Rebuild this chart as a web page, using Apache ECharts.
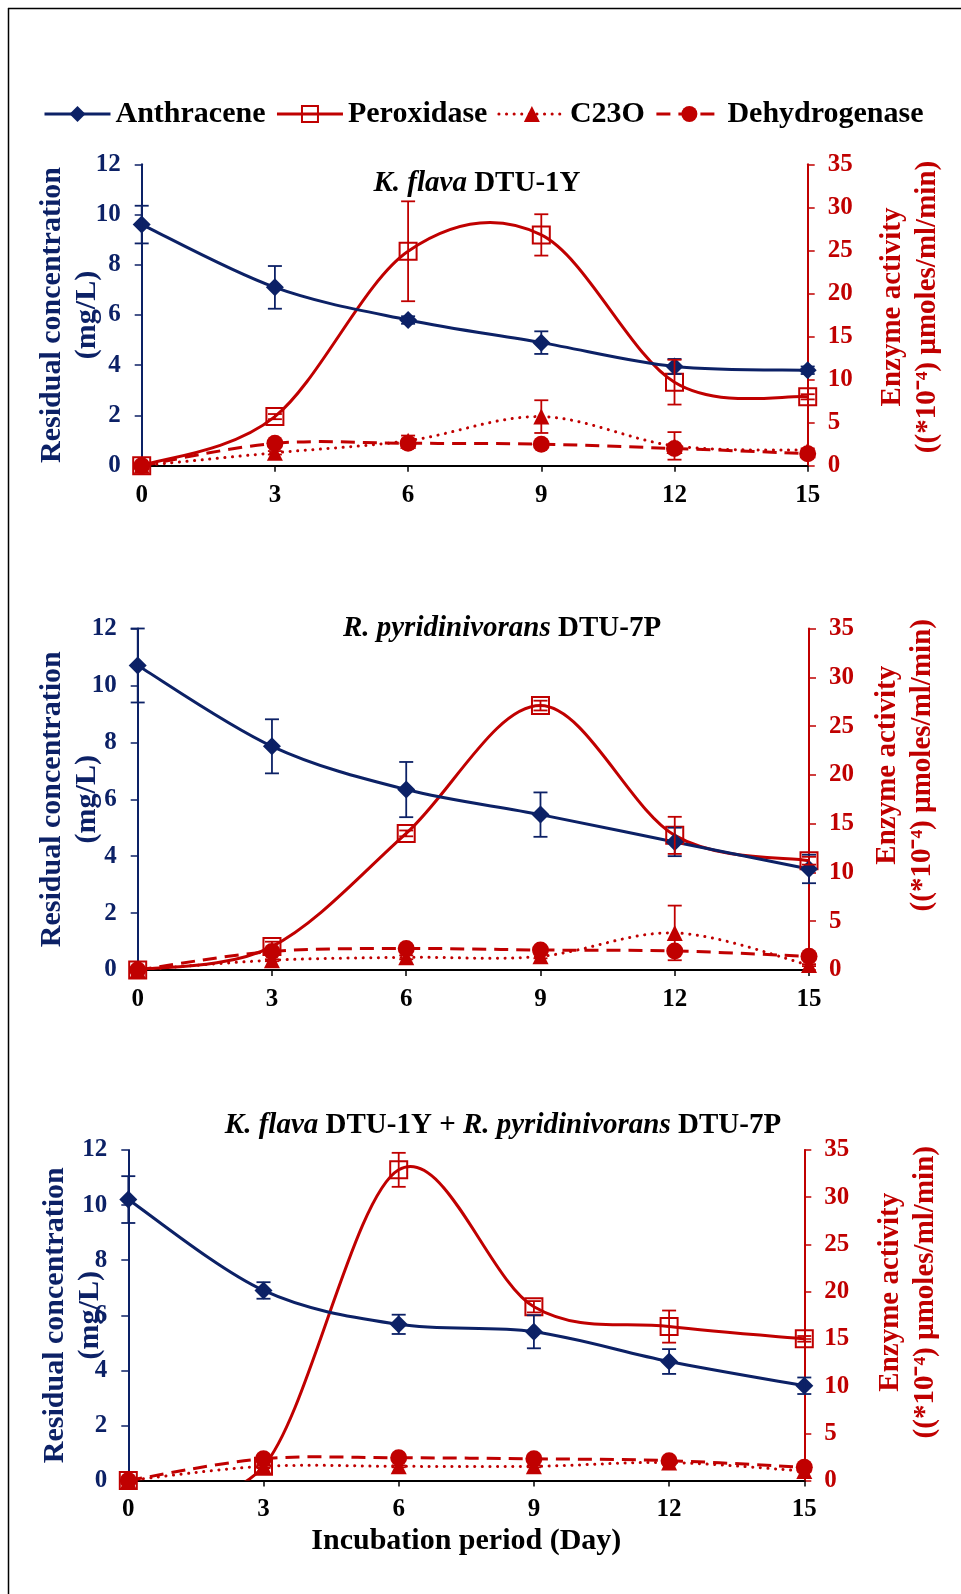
<!DOCTYPE html>
<html>
<head>
<meta charset="utf-8">
<script src="https://cdn.jsdelivr.net/npm/echarts@6/dist/echarts.min.js"></script>
<style>
  html, body { margin: 0; padding: 0; background: #fff; }
  #chart { width: 961px; height: 1594px; }
</style>
</head>
<body>
<div id="chart"></div>
<script>
// Incubation days (x axis)
const days = [0, 3, 6, 9, 12, 15];

// K. flava DTU-1Y
const anthA = [9.6, 7.1, 5.8, 4.9, 3.95, 3.8];
const anthErrA = [0.75, 0.85, 0.15, 0.45, 0.3, 0.15];
const peroxA = [0, 5.7, 24.9, 26.8, 9.7, 8.0];
const peroxErrA = [0, 0.3, 5.8, 2.4, 2.6, 0.3];
const c23oA = [0, 1.5, 2.9, 5.7, 2.3, 1.8];
const c23oErrA = [0, 0.2, 0.6, 1.9, 1.6, 0.2];
const dehA = [0, 2.6, 2.6, 2.5, 2.0, 1.4];
const dehErrA = [0, 0.2, 0.5, 0.2, 0.3, 0.2];

// R. pyridinivorans DTU-7P
const anthB = [10.7, 7.86, 6.34, 5.46, 4.5, 3.55];
const anthErrB = [1.3, 0.95, 0.97, 0.78, 0.5, 0.5];
const peroxB = [0, 2.4, 14.0, 27.1, 13.8, 11.2];
const peroxErrB = [0, 0.5, 0.3, 0.5, 1.9, 0.4];
const c23oB = [0, 1.0, 1.3, 1.4, 3.8, 0.5];
const c23oErrB = [0, 0.1, 0.2, 0.2, 2.8, 0.1];
const dehB = [0, 1.9, 2.2, 2.05, 1.95, 1.4];
const dehErrB = [0, 0.1, 0.2, 0.2, 0.2, 0.1];

// Consortium K. flava DTU-1Y + R. pyridinivorans DTU-7P
const anthC = [10.2, 6.9, 5.67, 5.4, 4.32, 3.44];
const anthErrC = [0.85, 0.3, 0.35, 0.6, 0.45, 0.3];
const peroxC = [0, 1.5, 32.9, 18.4, 16.3, 15.0];
const peroxErrC = [0, 0.2, 1.8, 0.6, 1.7, 0.3];
const c23oC = [0, 1.5, 1.5, 1.5, 1.9, 1.0];
const c23oErrC = [0, 0.1, 0.1, 0.1, 0.2, 0.1];
const dehC = [0, 2.3, 2.4, 2.3, 2.1, 1.4];
const dehErrC = [0, 0.2, 0.2, 0.2, 0.2, 0.1];

// Axis tick settings
const concTicks = { min: 0, max: 12, interval: 2 };
const enzTicks = { min: 0, max: 35, interval: 5 };
const dayTicks = { min: 0, max: 15, interval: 3 };

const panelTitles = [
  '{i|K. flava} DTU-1Y',
  '{i|R. pyridinivorans} DTU-7P',
  '{i|K. flava} DTU-1Y + {i|R. pyridinivorans} DTU-7P'
];

const NAVY = '#0c2166';
const RED = '#c00000';
const FONT = '"Liberation Serif", "Times New Roman", serif';

// Line looks shared by the curves and the legend icons
const DOTS = [0.1, 7.5];
const DASHES = [14, 8];
const looks = {
  Anthracene: { color: NAVY, width: 3, type: 'solid', cap: 'butt' },
  Peroxidase: { color: RED, width: 3, type: 'solid', cap: 'butt' },
  C23O: { color: RED, width: 3, type: DOTS, cap: 'round' },
  Dehydrogenase: { color: RED, width: 3, type: DASHES, cap: 'butt' }
};

const panels = [
  { anth: anthA, anthErr: anthErrA, perox: peroxA, peroxErr: peroxErrA, c23o: c23oA, c23oErr: c23oErrA, deh: dehA, dehErr: dehErrA },
  { anth: anthB, anthErr: anthErrB, perox: peroxB, peroxErr: peroxErrB, c23o: c23oB, c23oErr: c23oErrB, deh: dehB, dehErr: dehErrB },
  { anth: anthC, anthErr: anthErrC, perox: peroxC, peroxErr: peroxErrC, c23o: c23oC, c23oErr: c23oErrC, deh: dehC, dehErr: dehErrC }
];

// Layout of the three stacked plots
const grids = [
  { left: 141.7, top: 164.3, width: 666, height: 301.4 },
  { left: 137.7, top: 628.5, width: 671.3, height: 341.5 },
  { left: 128.3, top: 1150, width: 676, height: 330.5 }
];
const titlePos = [
  { x: 472, y: 164 },
  { x: 497, y: 609 },
  { x: 498, y: 1106 }
];
const leftNameGap = [37, 33, 21];
const rightNameGap = [67, 61, 69];
const rightNameShift = [16, 68, 46];

const pairs = (ys) => days.map((d, i) => [d, ys[i]]);
const errData = (ys, es) => days
  .map((d, i) => [d, ys[i] - es[i], ys[i] + es[i]])
  .filter((r, i) => es[i] > 0);

// One row per curve piece: previous, start, end and next point
function pieces(ys) {
  const pts = pairs(ys);
  const n = pts.length;
  const rows = [];
  for (let i = 0; i < n - 1; i++) {
    const a = pts[Math.max(i - 1, 0)], b = pts[i], c = pts[i + 1], d = pts[Math.min(i + 2, n - 1)];
    rows.push([a[0], a[1], b[0], b[1], c[0], c[1], d[0], d[1]]);
  }
  return rows;
}

// Cardinal spline piece (tension 1/6) between two neighbouring points
function curveRender(look) {
  const k = 1 / 6;
  return function (params, api) {
    const a = api.coord([api.value(0), api.value(1)]);
    const b = api.coord([api.value(2), api.value(3)]);
    const c = api.coord([api.value(4), api.value(5)]);
    const d = api.coord([api.value(6), api.value(7)]);
    return {
      type: 'bezierCurve',
      shape: {
        x1: b[0], y1: b[1], x2: c[0], y2: c[1],
        cpx1: b[0] + (c[0] - a[0]) * k, cpy1: b[1] + (c[1] - a[1]) * k,
        cpx2: c[0] - (d[0] - b[0]) * k, cpy2: c[1] - (d[1] - b[1]) * k
      },
      style: {
        fill: 'none', stroke: look.color, lineWidth: look.width,
        lineDash: look.type === 'solid' ? null : look.type, lineCap: look.cap
      }
    };
  };
}

function errRender(color) {
  const cap = 7;
  return function (params, api) {
    const x = api.value(0);
    const p1 = api.coord([x, api.value(1)]);
    const p2 = api.coord([x, api.value(2)]);
    const style = { stroke: color, lineWidth: 1.8, fill: 'none' };
    return {
      type: 'group',
      children: [
        { type: 'line', shape: { x1: p1[0], y1: p1[1], x2: p2[0], y2: p2[1] }, style },
        { type: 'line', shape: { x1: p1[0] - cap, y1: p1[1], x2: p1[0] + cap, y2: p1[1] }, style },
        { type: 'line', shape: { x1: p2[0] - cap, y1: p2[1], x2: p2[0] + cap, y2: p2[1] }, style }
      ]
    };
  };
}

const xAxes = [], yAxes = [], series = [], titles = [];

panels.forEach((p, k) => {
  titles.push({
    text: panelTitles[k],
    left: titlePos[k].x,
    top: titlePos[k].y,
    textAlign: 'center',
    textStyle: {
      fontFamily: FONT, fontSize: 29, fontWeight: 'bold', color: '#000',
      rich: { i: { fontFamily: FONT, fontSize: 29, fontWeight: 'bold', fontStyle: 'italic', color: '#000' } }
    }
  });

  xAxes.push(Object.assign({
    type: 'value', gridIndex: k,
    axisLine: { onZero: false, lineStyle: { color: '#000', width: 2 } },
    axisTick: { show: true, length: 6, lineStyle: { color: '#000', width: 1.5 } },
    axisLabel: { color: '#000', fontFamily: FONT, fontSize: 25, fontWeight: 'bold', margin: 17 },
    splitLine: { show: false },
    name: k === 2 ? 'Incubation period (Day)' : '',
    nameLocation: 'middle', nameGap: 46, nameMoveOverlap: false,
    nameTextStyle: { fontFamily: FONT, fontSize: 30, fontWeight: 'bold', color: '#000' }
  }, dayTicks));

  yAxes.push(Object.assign({
    type: 'value', gridIndex: k, position: 'left',
    axisLine: { show: true, onZero: false, lineStyle: { color: NAVY, width: 2 } },
    axisTick: { show: true, length: 7, lineStyle: { color: NAVY, width: 1.5 } },
    axisLabel: { color: NAVY, fontFamily: FONT, fontSize: 25, fontWeight: 'bold', margin: 21 },
    splitLine: { show: false },
    name: 'Residual concentration\n(mg/L)',
    nameLocation: 'middle', nameRotate: 90, nameGap: leftNameGap[k], nameMoveOverlap: false,
    nameTextStyle: { fontFamily: FONT, fontSize: 30, fontWeight: 'bold', color: NAVY, lineHeight: 35 }
  }, concTicks));

  yAxes.push(Object.assign({
    type: 'value', gridIndex: k, position: 'right',
    axisLine: { show: true, onZero: false, lineStyle: { color: RED, width: 2 } },
    axisTick: { show: true, length: 7, lineStyle: { color: RED, width: 1.5 } },
    axisLabel: { color: RED, fontFamily: FONT, fontSize: 25, fontWeight: 'bold', margin: 20 },
    splitLine: { show: false },
    name: 'Enzyme activity\n((*10\u207B\u2074) \u00B5moles/ml/min)',
    nameLocation: 'middle', nameRotate: 90, nameGap: rightNameGap[k], nameMoveOverlap: false,
    nameTextStyle: { fontFamily: FONT, fontSize: 29, fontWeight: 'bold', color: RED, lineHeight: 35,
      padding: [0, 0, 0, rightNameShift[k]] }
  }, enzTicks));

  const yl = 2 * k, yr = 2 * k + 1;

  // smooth curves
  [['Peroxidase', p.perox, yr], ['C23O', p.c23o, yr], ['Dehydrogenase', p.deh, yr], ['Anthracene', p.anth, yl]]
    .forEach(([name, ys, yi]) => {
      series.push({
        type: 'custom', xAxisIndex: k, yAxisIndex: yi, z: name === 'Anthracene' ? 3 : 2,
        clip: true, silent: true, animation: false,
        dimensions: ['x0', 'y0', 'x1', 'y1', 'x2', 'y2', 'x3', 'y3'],
        encode: { x: [2, 4], y: [3, 5] },
        data: pieces(ys), renderItem: curveRender(looks[name])
      });
    });

  // markers (line itself drawn by the curve pieces)
  const base = { type: 'line', xAxisIndex: k, animation: false, emphasis: { disabled: true }, silent: true };
  series.push(Object.assign({}, base, {
    name: 'Peroxidase', yAxisIndex: yr, data: pairs(p.perox), z: 4,
    symbol: 'rect', symbolSize: 17,
    lineStyle: { color: RED, width: 3, opacity: 0 },
    itemStyle: { color: 'rgba(255,255,255,0)', borderColor: RED, borderWidth: 2 }
  }));
  series.push(Object.assign({}, base, {
    name: 'C23O', yAxisIndex: yr, data: pairs(p.c23o), z: 4,
    symbol: 'triangle', symbolSize: 16,
    lineStyle: { color: RED, width: 3, opacity: 0 },
    itemStyle: { color: RED }
  }));
  series.push(Object.assign({}, base, {
    name: 'Dehydrogenase', yAxisIndex: yr, data: pairs(p.deh), z: 4,
    symbol: 'circle', symbolSize: 17,
    lineStyle: { color: RED, width: 3, opacity: 0 },
    itemStyle: { color: RED }
  }));
  series.push(Object.assign({}, base, {
    name: 'Anthracene', yAxisIndex: yl, data: pairs(p.anth), z: 5,
    symbol: 'diamond', symbolSize: 18,
    lineStyle: { color: NAVY, width: 3, opacity: 0 },
    itemStyle: { color: NAVY }
  }));

  const errSets = [
    [p.anth, p.anthErr, yl, NAVY],
    [p.perox, p.peroxErr, yr, RED],
    [p.c23o, p.c23oErr, yr, RED],
    [p.deh, p.dehErr, yr, RED]
  ];
  errSets.forEach(([ys, es, yi, col]) => {
    series.push({
      type: 'custom', xAxisIndex: k, yAxisIndex: yi, z: 6,
      data: errData(ys, es), encode: { x: 0, y: [1, 2] },
      renderItem: errRender(col), animation: false, silent: true
    });
  });
});

const legendNames = ['Anthracene', 'Peroxidase', 'C23O', 'Dehydrogenase'];

const chart = echarts.init(document.getElementById('chart'), null, { renderer: 'canvas' });
chart.setOption({
  backgroundColor: '#fff',
  animation: false,
  title: titles,
  legend: {
    data: legendNames.map(n => ({
      name: n,
      lineStyle: Object.assign({ opacity: 1 }, looks[n])
    })),
    left: 43, top: 99, padding: 0,
    itemWidth: 66, itemHeight: 20, itemGap: 10,
    textStyle: { fontFamily: FONT, fontSize: 30, fontWeight: 'bold', color: '#000' },
    selectedMode: false
  },
  grid: grids,
  xAxis: xAxes,
  yAxis: yAxes,
  series: series,
  graphic: [
    { type: 'line', shape: { x1: 8.5, y1: 8, x2: 8.5, y2: 1594 }, style: { stroke: '#000', lineWidth: 1.5 } },
    { type: 'line', shape: { x1: 8, y1: 8.5, x2: 961, y2: 8.5 }, style: { stroke: '#000', lineWidth: 1.5 } }
  ]
});
</script>
</body>
</html>
